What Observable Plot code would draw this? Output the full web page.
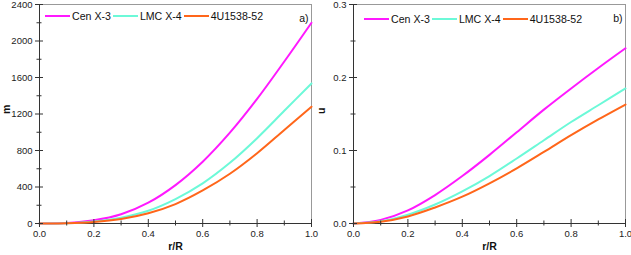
<!DOCTYPE html>
<html>
<head>
<meta charset="utf-8">
<script src="https://cdn.jsdelivr.net/npm/d3@7"></script>
<script src="https://cdn.jsdelivr.net/npm/@observablehq/plot@0.6"></script>
<style>
  html, body { margin: 0; padding: 0; background: #fff; }
  #wrap { position: relative; width: 631px; height: 255px; display: flex; font-family: "Liberation Sans", Arial, sans-serif; }
  #wrap svg { overflow: visible; }
  .legend { position: absolute; display: flex; align-items: center; font-size: 10.6px; color: #111; white-space: nowrap; }
  .legend .sw { display: inline-block; width: 25px; height: 2px; margin-right: 2px; }
  .legend .lab { margin-right: 2px; }
</style>
</head>
<body>
<div id="wrap"></div>
<script>
// ---- data ----
const r = [0, 0.1, 0.2, 0.3, 0.4, 0.5, 0.6, 0.7, 0.8, 0.9, 1.0];
const seriesNames = ["Cen X-3", "LMC X-4", "4U1538-52"];
const m_cen = [0, 5, 35, 101, 228, 421, 677, 995, 1365, 1775, 2200];
const m_lmc = [0, 3, 22, 64, 140, 268, 440, 665, 935, 1235, 1535];
const m_4u  = [0, 2, 16, 49, 112, 213, 362, 545, 770, 1025, 1280];
const u_cen = [0, 0.005, 0.018, 0.039, 0.065, 0.094, 0.125, 0.156, 0.185, 0.213, 0.240];
const u_lmc = [0, 0.003, 0.012, 0.026, 0.044, 0.065, 0.089, 0.114, 0.139, 0.162, 0.185];
const u_4u  = [0, 0.0025, 0.0097, 0.022, 0.0367, 0.055, 0.0755, 0.098, 0.121, 0.1426, 0.163];
const xMajor = [0, 0.2, 0.4, 0.6, 0.8, 1.0];
const xMinor = [0.1, 0.3, 0.5, 0.7, 0.9];
const mMajor = [0, 400, 800, 1200, 1600, 2000, 2400];
const mMinor = [200, 600, 1000, 1400, 1800, 2200];
const uMajor = [0, 0.1, 0.2, 0.3];
const uMinor = [0.05, 0.15, 0.25];
const colors = ["#ff19ff", "#6cf9d8", "#ff661a"];

function rows(arrs) {
  const out = [];
  arrs.forEach((a, k) => a.forEach((v, i) => out.push({r: r[i], v, s: seriesNames[k]})));
  return out;
}

function panel({width, marginLeft, marginRight, yDomain, yMajor, yMinor, yFmt, yLabel, tag, data}) {
  const axisColor = "#333";
  return Plot.plot({
    width, height: 255,
    marginLeft, marginRight, marginTop: 4, marginBottom: 32,
    style: {fontFamily: "Liberation Sans, Arial, sans-serif", fontSize: "9.5px", color: "#222", background: "transparent", overflow: "visible"},
    x: {domain: [0, 1]},
    y: {domain: yDomain},
    color: {domain: seriesNames, range: colors},
    marks: [
      Plot.frame({stroke: "#999", strokeWidth: 1}),
      Plot.ruleX([0], {stroke: axisColor, strokeWidth: 1}),
      Plot.ruleY([yDomain[0]], {stroke: axisColor, strokeWidth: 1}),
      Plot.line(data, {x: "r", y: "v", stroke: "s", z: "s", strokeWidth: 2, curve: "catmull-rom"}),
      // tick marks crossing axes
      Plot.axisX({ticks: xMajor, tickSize: 8, dy: -4, text: null, label: null, stroke: axisColor}),
      Plot.axisX({ticks: xMinor, tickSize: 5, dy: -2.5, text: null, label: null, stroke: axisColor}),
      Plot.axisY({ticks: yMajor, tickSize: 8, dx: 4, text: null, label: null, stroke: axisColor}),
      Plot.axisY({ticks: yMinor, tickSize: 5, dx: 2.5, text: null, label: null, stroke: axisColor}),
      // labels
      Plot.axisX({ticks: xMajor, tickSize: 0, tickPadding: 7, tickFormat: d3.format(".1f"), label: null}),
      Plot.axisY({ticks: yMajor, tickSize: 0, tickPadding: 7, tickFormat: yFmt, label: null}),
      Plot.text(["r/R"], {frameAnchor: "bottom", dy: 26, fontWeight: "bold", fontSize: 10.5, fill: "#111"}),
      Plot.text([yLabel], {frameAnchor: "left", dx: -marginLeft + 6, rotate: -90, fontWeight: "bold", fontSize: 10.5, fill: "#111"}),
      Plot.text([tag], {frameAnchor: "top-right", dx: -3, dy: 10, fontSize: 10.5, fill: "#111"})
    ]
  });
}

const wrap = document.getElementById("wrap");
const left = panel({
  width: 315, marginLeft: 39, marginRight: 4,
  yDomain: [0, 2400], yMajor: mMajor, yMinor: mMinor, yFmt: d3.format("d"),
  yLabel: "m", tag: "a)", data: rows([m_cen, m_lmc, m_4u])
});
const right = panel({
  width: 316, marginLeft: 38, marginRight: 6,
  yDomain: [0, 0.3], yMajor: uMajor, yMinor: uMinor, yFmt: d3.format(".1f"),
  yLabel: "u", tag: "b)", data: rows([u_cen, u_lmc, u_4u])
});
wrap.appendChild(left);
wrap.appendChild(right);

function legend(x, y) {
  const div = document.createElement("div");
  div.className = "legend";
  div.style.left = x + "px";
  div.style.top = y + "px";
  seriesNames.forEach((name, i) => {
    const sw = document.createElement("span");
    sw.className = "sw";
    sw.style.background = colors[i];
    const lab = document.createElement("span");
    lab.className = "lab";
    lab.textContent = name;
    div.appendChild(sw);
    div.appendChild(lab);
  });
  wrap.appendChild(div);
}
legend(45, 10);
legend(364, 13);
</script>
</body>
</html>
